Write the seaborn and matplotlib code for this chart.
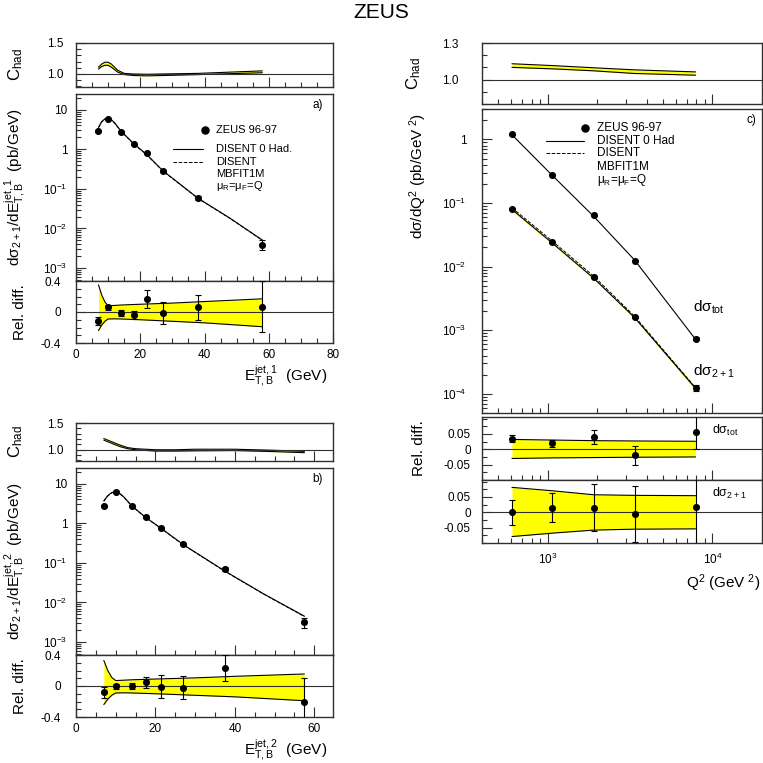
import numpy as np
import matplotlib
matplotlib.use('Agg')
import matplotlib.pyplot as plt
from matplotlib.ticker import MultipleLocator, LogLocator, NullFormatter
import seaborn as sns

sns.set_theme(style='ticks')
plt.rcParams['font.family'] = ['Liberation Sans', 'DejaVu Sans']
plt.rcParams['mathtext.default'] = 'regular'
plt.rcParams['text.color'] = 'black'
plt.rcParams['axes.labelcolor'] = 'black'

# ---- panel a: leading jet E_T ----
et1 = [7, 10, 14, 18, 22, 27, 38, 58]
xs_et1 = [2.9, 5.9, 2.7, 1.34, 0.79, 0.284, 0.058, 0.0039]
xs_et1_err = [0.15, 0.3, 0.12, 0.06, 0.05, 0.02, 0.007, 0.0011]
rel_et1 = [-0.12, 0.06, -0.013, -0.04, 0.17, -0.01, 0.06, 0.07]
rel_et1_err = [0.05, 0.03, 0.04, 0.05, 0.115, 0.14, 0.16, 0.33]

th_et1_x = [7, 8, 9, 10, 11, 12, 14, 18, 22, 27, 38, 48, 58]
th_et1 = [3.6, 5.0, 5.9, 6.2, 5.6, 4.7, 2.9, 1.38, 0.74, 0.29, 0.058, 0.018, 0.0051]
th_et1_mb = [3.5, 4.9, 5.8, 6.1, 5.5, 4.6, 2.85, 1.36, 0.73, 0.285, 0.057, 0.0178, 0.005]

band_et1_x = [7, 8, 9, 10, 12, 14, 20, 30, 40, 58]
band_et1_hi = [0.35, 0.22, 0.13, 0.08, 0.085, 0.09, 0.10, 0.115, 0.135, 0.17]
band_et1_lo = [-0.24, -0.17, -0.12, -0.09, -0.088, -0.09, -0.10, -0.12, -0.14, -0.19]

chad_et1_x = [7, 8, 9, 10, 11, 12, 13, 15, 18, 22, 27, 38, 48, 58]
chad_et1_hi = [1.11, 1.16, 1.19, 1.19, 1.16, 1.11, 1.06, 1.01, 1.0, 0.995, 1.0, 1.01, 1.03, 1.05]
chad_et1_lo = [1.08, 1.12, 1.14, 1.14, 1.11, 1.07, 1.03, 0.99, 0.975, 0.97, 0.975, 0.99, 1.005, 1.02]

# ---- panel b: second jet E_T ----
et2 = [7, 10, 14, 17.5, 21.5, 27, 37.5, 57.5]
xs_et2 = [2.8, 6.2, 2.75, 1.44, 0.76, 0.30, 0.071, 0.0032]
xs_et2_err = [0.14, 0.3, 0.13, 0.07, 0.05, 0.02, 0.009, 0.0009]
rel_et2 = [-0.083, -0.005, 0.0, 0.05, -0.01, -0.02, 0.23, -0.2]
rel_et2_err = [0.07, 0.03, 0.04, 0.07, 0.15, 0.15, 0.17, 0.3]

th_et2_x = [7, 8, 9, 10, 11, 12, 14, 17.5, 21.5, 27, 37.5, 47, 57.5]
th_et2 = [3.7, 5.0, 6.0, 6.3, 5.7, 4.7, 2.8, 1.42, 0.74, 0.29, 0.062, 0.017, 0.0045]
th_et2_mb = [3.6, 4.9, 5.9, 6.2, 5.6, 4.6, 2.75, 1.40, 0.73, 0.285, 0.061, 0.0168, 0.0044]

band_et2_x = [7, 8, 9, 10, 12, 14, 20, 30, 40, 57.5]
band_et2_hi = [0.33, 0.2, 0.11, 0.07, 0.075, 0.08, 0.09, 0.105, 0.125, 0.155]
band_et2_lo = [-0.24, -0.17, -0.12, -0.09, -0.088, -0.09, -0.10, -0.12, -0.14, -0.19]

chad_et2_x = [7, 9, 11, 13, 15, 20, 25, 30, 40, 50, 57.5]
chad_et2_hi = [1.21, 1.15, 1.09, 1.04, 1.02, 1.0, 1.0, 1.01, 1.01, 0.99, 0.97]
chad_et2_lo = [1.18, 1.12, 1.06, 1.02, 1.0, 0.975, 0.975, 0.98, 0.985, 0.965, 0.945]

# ---- panel c: Q^2 ----
q2 = [608, 1067, 1900, 3370, 7900]
xs_tot = [1.21, 0.277, 0.064, 0.0124, 7.4e-4]
xs_tot_err = [0.02, 0.005, 0.0012, 0.0003, 0.00003]
xs_2p1 = [0.080, 0.024, 0.0068, 0.0016, 1.25e-4]
xs_2p1_err = [0.002, 0.0006, 0.0002, 0.00006, 0.000015]
th_tot = [1.18, 0.272, 0.062, 0.0127, 7.2e-4]
th_2p1 = [0.079, 0.0235, 0.0066, 0.00158, 1.22e-4]
th_2p1_mb = [0.084, 0.0252, 0.0071, 0.00166, 1.25e-4]
th_2p1_hi = [0.082, 0.0243, 0.0068, 0.00163, 1.29e-4]
th_2p1_lo = [0.076, 0.0227, 0.0064, 0.00153, 1.15e-4]

rel_tot = [0.034, 0.019, 0.04, -0.02, 0.057]
rel_tot_err = [0.011, 0.01, 0.023, 0.031, 0.055]
rel_2p1 = [0.0, 0.015, 0.015, -0.006, 0.018]
rel_2p1_err = [0.04, 0.048, 0.077, 0.09, 0.15]
band_tot_hi = [0.032, 0.03, 0.028, 0.027, 0.026]
band_tot_lo = [-0.03, -0.028, -0.027, -0.026, -0.025]
band_2p1_hi = [0.081, 0.07, 0.057, 0.055, 0.054]
band_2p1_lo = [-0.079, -0.068, -0.058, -0.055, -0.054]

chad_q2_hi = [1.13, 1.115, 1.097, 1.08, 1.063]
chad_q2_lo = [1.10, 1.088, 1.072, 1.05, 1.036]

YEL = '#ffff00'
AX = '#303030'

fig = plt.figure(figsize=(7.63, 7.63), dpi=100)


def add(l, t, r, b):
    return fig.add_axes([l / 763, 1 - b / 763, (r - l) / 763, (b - t) / 763])


def style(ax, ypad=6):
    for s in ax.spines.values():
        s.set_linewidth(1.0)
        s.set_color(AX)
    ax.tick_params(which='both', direction='in', top=False, right=False,
                   bottom=True, left=True, color=AX, labelsize=8.5,
                   labelcolor='black', width=0.8)
    ax.tick_params(which='major', length=7)
    ax.tick_params(which='minor', length=3.5)
    ax.tick_params(axis='y', pad=ypad)
    ax.tick_params(axis='x', pad=4)
    ax.set_facecolor('white')


def band(ax, x, lo, hi, lw=0.8):
    ax.fill_between(x, lo, hi, color=YEL, lw=0, zorder=1)
    sns.lineplot(x=x, y=lo, ax=ax, color='black', lw=lw, sort=False, estimator=None, zorder=2)
    sns.lineplot(x=x, y=hi, ax=ax, color='black', lw=lw, sort=False, estimator=None, zorder=2)


def points(ax, x, y, err):
    ax.errorbar(x, y, yerr=err, fmt='none', ecolor='black', elinewidth=0.8,
                capsize=2.5, capthick=0.8, zorder=4)
    sns.scatterplot(x=x, y=y, ax=ax, color='black', s=26, edgecolor='black',
                    linewidth=0, zorder=5)


def log_y(ax, ticks, labels):
    ax.set_yscale('log')
    ax.set_yticks(ticks)
    ax.set_yticklabels(labels)
    ax.yaxis.set_minor_locator(LogLocator(base=10, subs=np.arange(2, 10), numticks=20))
    ax.yaxis.set_minor_formatter(NullFormatter())


def log_x(ax):
    ax.set_xscale('log')
    ax.set_xlim(400, 20000)
    ax.set_xticks([1e3, 1e4])
    ax.set_xticklabels(['$10^{3}$', '$10^{4}$'])
    ax.xaxis.set_minor_locator(LogLocator(base=10, subs=np.arange(2, 10), numticks=20))
    ax.xaxis.set_minor_formatter(NullFormatter())


def et_panel(top, x, xs, xs_err, rel, rel_err, thx, th, thmb, bx, bhi, blo,
             cx, chi, clo, xmax, jet, tag, legend):
    chad = add(76, top, 333, top + 44 if jet == 1 else top + 38)
    mtop = top + 51 if jet == 1 else top + 45
    main = add(76, mtop, 333, mtop + 187)
    rel_ax = add(76, mtop + 187, 333, mtop + 249)

    for ax in (chad, main, rel_ax):
        style(ax)
        ax.set_xlim(0, xmax)
        ax.xaxis.set_major_locator(MultipleLocator(20))
        ax.xaxis.set_minor_locator(MultipleLocator(5))
    chad.tick_params(labelbottom=False)
    main.tick_params(labelbottom=False)

    # hadronisation correction
    band(chad, cx, clo, chi)
    chad.axhline(1.0, color=AX, lw=0.8, zorder=3)
    chad.set_ylim(0.79, 1.5)
    chad.set_yticks([1.0, 1.5])
    chad.set_yticklabels(['1.0', '1.5'])
    chad.yaxis.set_minor_locator(MultipleLocator(0.1))
    chad.tick_params(axis='y', pad=9)
    chad.set_ylabel('C$_{had}$', fontsize=12)
    chad.yaxis.set_label_coords(-0.2, 0.5)

    # cross section
    sns.lineplot(x=thx, y=th, ax=main, color='black', lw=0.8, sort=False, estimator=None)
    sns.lineplot(x=thx, y=thmb, ax=main, color='black', lw=0.7, linestyle='--',
                 sort=False, estimator=None)
    points(main, x, xs, xs_err)
    log_y(main, [1e-3, 1e-2, 1e-1, 1, 10],
          ['$10^{-3}$', '$10^{-2}$', '$10^{-1}$', '1', '10'])
    main.set_ylim(4.7e-4, 25)
    main.set_ylabel('dσ$_{2+1}$/d$E^{jet,%d}_{T,B}$  (pb/GeV)' % jet, fontsize=11)
    main.yaxis.set_label_coords(-0.19, 0.5)
    main.text(0.94, 0.94, tag, transform=main.transAxes, fontsize=8.5,
              ha='center', va='center')

    if legend:
        tr = main.transAxes
        main.scatter([0.50], [0.807], s=26, color='black', transform=tr, zorder=6)
        main.plot([0.376, 0.495], [0.707, 0.707], color='black', lw=0.8, transform=tr)
        main.plot([0.376, 0.495], [0.638, 0.638], color='black', lw=0.7, ls='--', transform=tr)
        for yy, txt in [(0.807, 'ZEUS 96-97'), (0.707, 'DISENT 0 Had.'),
                        (0.638, 'DISENT'), (0.574, 'MBFIT1M'),
                        (0.508, 'μ$_R$=μ$_F$=Q')]:
            main.text(0.545, yy, txt, transform=tr, fontsize=8, va='center')

    # relative difference
    band(rel_ax, bx, blo, bhi)
    rel_ax.axhline(0.0, color=AX, lw=0.8, zorder=3)
    points(rel_ax, x, rel, rel_err)
    rel_ax.set_ylim(-0.4, 0.4)
    rel_ax.set_yticks([-0.4, 0, 0.4])
    rel_ax.set_yticklabels(['-0.4', '0', '0.4'])
    rel_ax.yaxis.set_minor_locator(MultipleLocator(0.1))
    rel_ax.tick_params(axis='y', pad=11)
    rel_ax.set_ylabel('Rel. diff.', fontsize=11)
    rel_ax.yaxis.set_label_coords(-0.19, 0.5)
    rel_ax.set_xlabel('$E^{jet,%d}_{T,B}$  (GeV)' % jet, fontsize=11, loc='right')
    rel_ax.xaxis.set_label_coords(0.978, -0.33)


et_panel(43, et1, xs_et1, xs_et1_err, rel_et1, rel_et1_err, th_et1_x, th_et1,
         th_et1_mb, band_et1_x, band_et1_hi, band_et1_lo, chad_et1_x, chad_et1_hi,
         chad_et1_lo, 80, 1, 'a)', True)
et_panel(423, et2, xs_et2, xs_et2_err, rel_et2, rel_et2_err, th_et2_x, th_et2,
         th_et2_mb, band_et2_x, band_et2_hi, band_et2_lo, chad_et2_x, chad_et2_hi,
         chad_et2_lo, 64.7, 2, 'b)', False)

# ---- panel c ----
c_chad = add(482, 43, 762, 104)
c_main = add(482, 109, 762, 413)
c_rel1 = add(482, 417, 762, 480)
c_rel2 = add(482, 480, 762, 543)
for ax in (c_chad, c_main, c_rel1, c_rel2):
    style(ax)
    log_x(ax)
for ax in (c_chad, c_main, c_rel1):
    ax.tick_params(labelbottom=False)
c_rel2.tick_params(axis='x', pad=6)

band(c_chad, q2, chad_q2_lo, chad_q2_hi)
c_chad.axhline(1.0, color=AX, lw=0.8, zorder=3)
c_chad.set_ylim(0.8, 1.3)
c_chad.set_yticks([1.0, 1.3])
c_chad.set_yticklabels(['1.0', '1.3'])
c_chad.yaxis.set_minor_locator(MultipleLocator(0.1))
c_chad.tick_params(axis='y', pad=17)
c_chad.set_ylabel('C$_{had}$', fontsize=12)
c_chad.yaxis.set_label_coords(-0.21, 0.5)

c_main.fill_between(q2, th_2p1_lo, th_2p1_hi, color=YEL, lw=0, zorder=1)
sns.lineplot(x=q2, y=th_tot, ax=c_main, color='black', lw=0.8, sort=False, estimator=None)
sns.lineplot(x=q2, y=th_2p1, ax=c_main, color='black', lw=0.8, sort=False, estimator=None)
sns.lineplot(x=q2, y=th_2p1_mb, ax=c_main, color='black', lw=0.7, linestyle='--',
             sort=False, estimator=None)
points(c_main, q2, xs_tot, xs_tot_err)
points(c_main, q2, xs_2p1, xs_2p1_err)
log_y(c_main, [1e-4, 1e-3, 1e-2, 1e-1, 1],
      ['$10^{-4}$', '$10^{-3}$', '$10^{-2}$', '$10^{-1}$', '1'])
c_main.set_ylim(5e-5, 3)
c_main.tick_params(axis='y', pad=11)
c_main.set_ylabel('dσ/d$Q^{2}$ (pb/$GeV^{\\ 2}$)', fontsize=11)
c_main.yaxis.set_label_coords(-0.19, 0.78)
tr = c_main.transAxes
c_main.text(0.964, 0.965, 'c)', transform=tr, fontsize=8.5, ha='center', va='center')
c_main.scatter([0.369], [0.939], s=26, color='black', transform=tr, zorder=6)
c_main.plot([0.23, 0.363], [0.894, 0.894], color='black', lw=0.8, transform=tr)
c_main.plot([0.23, 0.363], [0.854, 0.854], color='black', lw=0.7, ls='--', transform=tr)
for yy, txt in [(0.939, 'ZEUS 96-97'), (0.894, 'DISENT 0 Had'), (0.854, 'DISENT'),
                (0.81, 'MBFIT1M'), (0.766, 'μ$_R$=μ$_F$=Q')]:
    c_main.text(0.409, yy, txt, transform=tr, fontsize=8.5, va='center')
c_main.text(0.754, 0.349, 'dσ$_{tot}$', transform=tr, fontsize=11, va='center')
c_main.text(0.754, 0.137, 'dσ$_{2+1}$', transform=tr, fontsize=11, va='center')

for ax, rel, err, lo, hi, lab in [(c_rel1, rel_tot, rel_tot_err, band_tot_lo, band_tot_hi, 'dσ$_{tot}$'),
                                  (c_rel2, rel_2p1, rel_2p1_err, band_2p1_lo, band_2p1_hi, 'dσ$_{2+1}$')]:
    band(ax, q2, lo, hi)
    ax.axhline(0.0, color=AX, lw=0.8, zorder=3)
    points(ax, q2, rel, err)
    ax.set_ylim(-0.1, 0.105)
    ax.set_yticks([-0.05, 0, 0.05])
    ax.set_yticklabels(['-0.05', '0', '0.05'])
    ax.yaxis.set_minor_locator(MultipleLocator(0.025))
    ax.tick_params(axis='y', pad=8)
    ax.text(0.823, 0.79, lab, transform=ax.transAxes, fontsize=9, va='center')

c_rel1.set_ylabel('Rel. diff.', fontsize=11)
c_rel1.yaxis.set_label_coords(-0.2, 0.5)
c_rel2.set_xlabel('$Q^{2}$ ($GeV^{\\ 2}$)', fontsize=11, loc='right')
c_rel2.xaxis.set_label_coords(0.995, -0.46)

fig.text(0.5, 0.984, 'ZEUS', ha='center', va='center', fontsize=15)

fig.savefig('out.png', dpi=100)
